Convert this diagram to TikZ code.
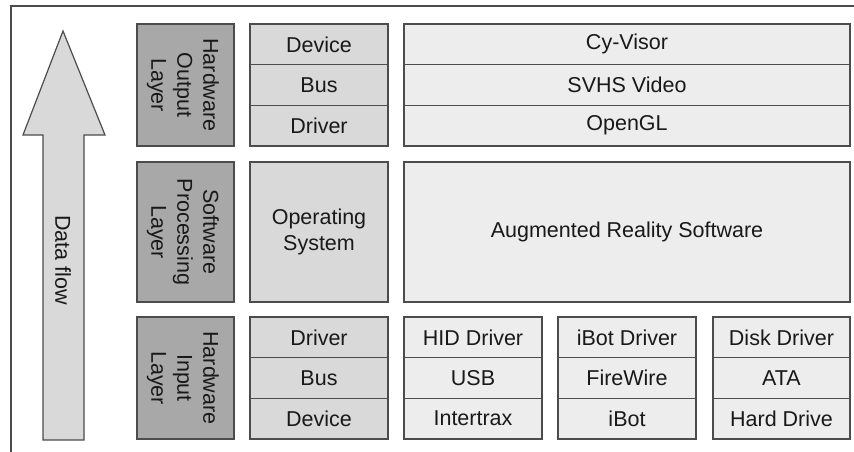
\documentclass[tikz,border=0pt]{standalone}
\usepackage{fontspec}
\setmainfont{Liberation Sans}
\begin{document}
\begin{tikzpicture}[x=1pt,y=-1pt,
  edge/.style={draw=black!70,line width=1.2pt},
  cellbase/.style={edge,inner sep=0pt,outer sep=0pt,align=center,
    font=\fontsize{21.5}{26}\selectfont,text=black!90},
  layerbox/.style={cellbase,fill=black!34},
  midbox/.style={cellbase,fill=black!15},
  lightbox/.style={cellbase,fill=black!7},
  vtext/.style={rotate=-90,align=center,inner sep=0pt,
    font=\fontsize{21.5}{26}\selectfont,text=black!90}]
\useasboundingbox (0,0) rectangle (854,452);
% frame (top and left only)
\draw[draw=black!70,line width=1.5pt] (854,6) -- (11,6) -- (11,452);
% data flow arrow
\draw[edge,fill=black!15] (63,31) -- (105,135) -- (84,135) -- (84,440)
  -- (43,440) -- (43,135) -- (23,135) -- cycle;
\node[vtext] (flow) at (63,260) {Data flow};
% layer boxes
\node[layerbox,minimum width=97pt,minimum height=122pt] (outL) at (185.5,85) {};
\node[vtext] (outLt) at (183,85) {Hardware\\Output\\Layer};
\node[layerbox,minimum width=97pt,minimum height=140pt] (swL) at (185.5,232) {};
\node[vtext] (swLt) at (183,232) {Software\\Processing\\Layer};
\node[layerbox,minimum width=97pt,minimum height=122pt] (inL) at (185.5,378) {};
\node[vtext] (inLt) at (183,378) {Hardware\\Input\\Layer};
% output layer
\node[midbox,minimum width=138pt,minimum height=40.67pt] (oDev) at (319,44.33) {Device};
\node[midbox,minimum width=138pt,minimum height=40.67pt] (oBus) at (319,85) {Bus};
\node[midbox,minimum width=138pt,minimum height=40.67pt] (oDrv) at (319,125.67) {Driver};
\node[lightbox,minimum width=446pt,minimum height=40.67pt] (cyv) at (627,44.33) {Cy-Visor};
\node[lightbox,minimum width=446pt,minimum height=40.67pt] (svhs) at (627,85) {SVHS Video};
\node[lightbox,minimum width=446pt,minimum height=40.67pt] (ogl) at (627,125.67) {OpenGL};
% software layer
\node[midbox,minimum width=138pt,minimum height=140pt] (os) at (319,232) {Operating\\System};
\node[lightbox,minimum width=446pt,minimum height=140pt] (ars) at (627,232) {Augmented Reality Software};
% input layer
\node[midbox,minimum width=138pt,minimum height=40.67pt] (iDrv) at (319,337.33) {Driver};
\node[midbox,minimum width=138pt,minimum height=40.67pt] (iBus) at (319,378) {Bus};
\node[midbox,minimum width=138pt,minimum height=40.67pt] (iDev) at (319,418.67) {Device};
\node[lightbox,minimum width=138pt,minimum height=40.67pt] (hid) at (473,337.33) {HID Driver};
\node[lightbox,minimum width=138pt,minimum height=40.67pt] (usb) at (473,378) {USB};
\node[lightbox,minimum width=138pt,minimum height=40.67pt] (itx) at (473,418.67) {Intertrax};
\node[lightbox,minimum width=138pt,minimum height=40.67pt] (ibd) at (627,337.33) {iBot Driver};
\node[lightbox,minimum width=138pt,minimum height=40.67pt] (fw) at (627,378) {FireWire};
\node[lightbox,minimum width=138pt,minimum height=40.67pt] (ibot) at (627,418.67) {iBot};
\node[lightbox,minimum width=137pt,minimum height=40.67pt] (dd) at (781.5,337.33) {Disk Driver};
\node[lightbox,minimum width=137pt,minimum height=40.67pt] (ata) at (781.5,378) {ATA};
\node[lightbox,minimum width=137pt,minimum height=40.67pt] (hd) at (781.5,418.67) {Hard Drive};
\end{tikzpicture}
\end{document}
